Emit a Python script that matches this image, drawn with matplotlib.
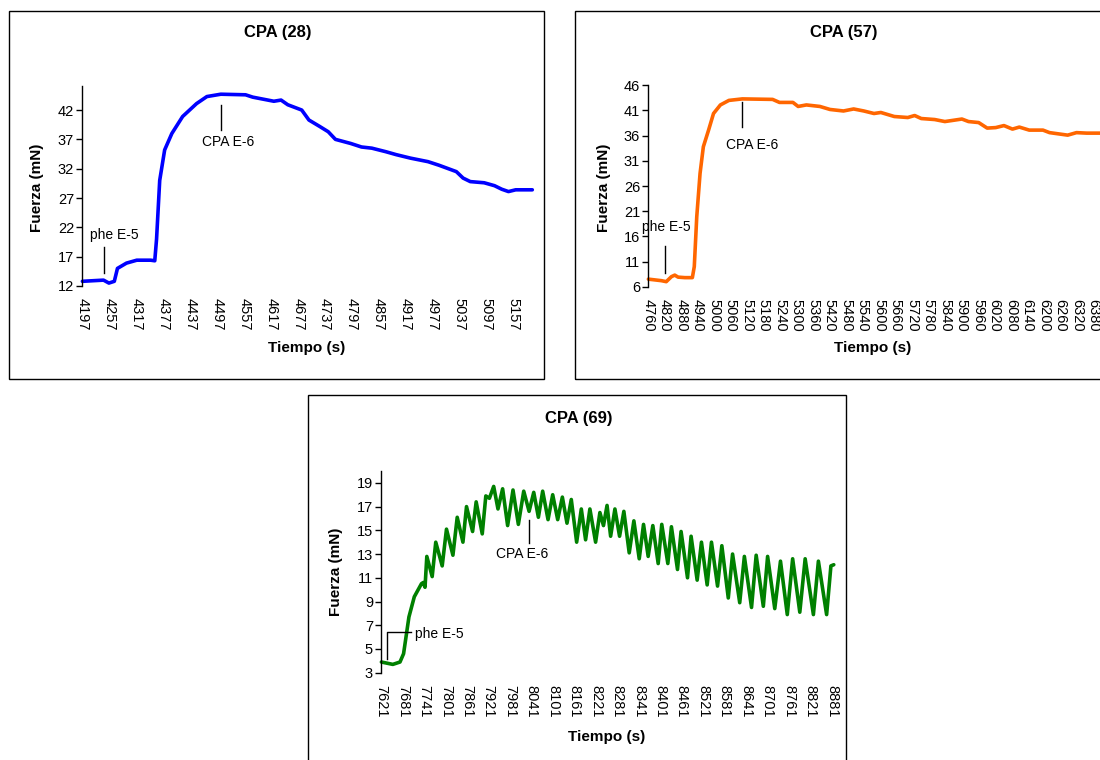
import matplotlib
matplotlib.use("Agg")
import matplotlib.pyplot as plt
from matplotlib.patches import Rectangle

plt.rcParams["font.family"] = ["Liberation Sans", "DejaVu Sans"]

# --- CPA (28): blue trace -------------------------------------------------
t28 = [4197, 4244, 4256, 4268, 4275, 4295, 4318, 4349, 4358, 4362, 4369, 4380,
       4396, 4420, 4451, 4474, 4505, 4560, 4576, 4623, 4639, 4654, 4685, 4701,
       4725, 4744, 4760, 4794, 4818, 4841, 4872, 4895, 4927, 4966, 4990, 5029,
       5044, 5060, 5091, 5114, 5130, 5145, 5161, 5198]
f28 = [12.8, 13.0, 12.5, 12.8, 15.0, 15.9, 16.4, 16.4, 16.3, 20.0, 30.0, 35.2,
       38.0, 40.9, 43.1, 44.3, 44.7, 44.6, 44.2, 43.5, 43.7, 42.9, 42.0, 40.3,
       39.2, 38.3, 37.0, 36.3, 35.7, 35.5, 34.9, 34.4, 33.8, 33.2, 32.6, 31.5,
       30.4, 29.8, 29.6, 29.1, 28.5, 28.1, 28.4, 28.4]
ticks28 = list(range(4197, 5158, 60))

# --- CPA (57): orange trace -----------------------------------------------
t57 = [4760, 4807, 4825, 4844, 4856, 4868, 4893, 4920, 4927, 4936, 4948, 4960,
       4979, 4997, 5022, 5053, 5102, 5212, 5237, 5286, 5305, 5335, 5384, 5421,
       5470, 5507, 5544, 5581, 5606, 5655, 5704, 5729, 5753, 5802, 5839, 5864,
       5901, 5925, 5962, 5993, 6024, 6054, 6085, 6110, 6146, 6196, 6220, 6286,
       6318, 6355, 6402, 6430]
f57 = [7.5, 7.2, 7.0, 8.0, 8.3, 7.9, 7.8, 7.8, 10.0, 19.9, 28.5, 33.8,
       37.1, 40.4, 42.1, 43.0, 43.3, 43.2, 42.6, 42.6, 41.8, 42.1, 41.8, 41.2,
       40.9, 41.3, 40.9, 40.4, 40.6, 39.8, 39.6, 40.0, 39.4, 39.2, 38.8, 39.0,
       39.3, 38.8, 38.6, 37.5, 37.6, 38.0, 37.3, 37.7, 37.1, 37.1, 36.6, 36.1,
       36.6, 36.5, 36.5, 36.5]
ticks57 = list(range(4760, 6381, 60))

# --- CPA (69): green oscillating trace ------------------------------------
t69 = [7621, 7653, 7673, 7683, 7698, 7713, 7733, 7738, 7743, 7748, 7763, 7773,
       7791, 7803, 7821, 7833, 7849, 7859, 7876, 7886, 7903, 7913, 7923, 7935,
       7947, 7960, 7974, 7989, 8004, 8019, 8034, 8047, 8060, 8072, 8087, 8100,
       8114, 8127, 8140, 8152, 8167, 8180, 8192, 8204, 8220, 8232, 8242, 8252,
       8262, 8274, 8287, 8299, 8314, 8327, 8342, 8354, 8367, 8380, 8395, 8405,
       8422, 8432, 8449, 8459, 8477, 8487, 8504, 8516, 8532, 8544, 8561, 8573,
       8591, 8603, 8623, 8636, 8656, 8669, 8689, 8701, 8721, 8737, 8756, 8771,
       8791, 8806, 8829, 8843, 8866, 8878, 8886]
f69 = [3.9, 3.7, 3.9, 4.6, 7.7, 9.4, 10.5, 10.6, 10.2, 12.8, 11.1, 14.0,
       12.0, 15.1, 12.9, 16.1, 14.0, 17.0, 14.9, 17.4, 14.7, 17.9, 17.7, 18.7,
       16.8, 18.5, 15.4, 18.4, 15.5, 18.3, 16.6, 18.2, 16.1, 18.3, 15.9, 18.0,
       15.9, 17.8, 15.6, 17.6, 14.0, 16.8, 14.2, 16.8, 14.0, 16.5, 15.4, 17.1,
       14.5, 16.8, 14.5, 16.6, 13.1, 15.8, 12.6, 15.5, 12.8, 15.4, 12.2, 15.5,
       12.2, 15.3, 11.7, 14.9, 11.0, 14.5, 10.8, 14.0, 10.4, 14.0, 10.3, 13.7,
       9.3, 13.0, 8.9, 12.8, 8.5, 12.9, 8.6, 12.8, 8.4, 12.4, 7.9, 12.6,
       8.1, 12.6, 7.9, 12.4, 7.9, 12.0, 12.1]
ticks69 = list(range(7621, 8882, 60))

W, H = 1100, 760
fig = plt.figure(figsize=(W / 100, H / 100), dpi=100)


def fx(x):
    return x / W


def fy(y):
    return 1 - y / H


def frame(x0, y0, x1, y1):
    fig.patches.append(Rectangle((fx(x0), fy(y1)), fx(x1 - x0), (y1 - y0) / H,
                                 transform=fig.transFigure, fill=False,
                                 edgecolor="black", linewidth=1.0))


def panel(px_left, px_right, px_top, px_bottom, t, f, color, xlim, ylim, yticks, xticks,
          title, title_xy, ylab_xy, xlab_xy):
    ax = fig.add_axes([fx(px_left), fy(px_bottom), fx(px_right - px_left),
                       (px_bottom - px_top) / H])
    ax.plot(t, f, color=color, linewidth=2.6, solid_joinstyle="round",
            solid_capstyle="round", clip_on=False)
    ax.set_xlim(*xlim)
    ax.set_ylim(*ylim)
    ax.set_yticks(yticks)
    ax.set_xticks(xticks)
    ax.set_xticklabels([str(v) for v in xticks], rotation=-90, fontsize=10.5)
    ax.tick_params(axis="y", labelsize=10.5, length=4, width=1, pad=2)
    ax.tick_params(axis="x", length=0, pad=9)
    for side in ("top", "right", "bottom"):
        ax.spines[side].set_visible(False)
    ax.spines["left"].set_linewidth(1.0)
    ax.patch.set_alpha(0)
    fig.text(fx(title_xy[0]), fy(title_xy[1]), title, ha="center", va="center",
             fontsize=12, fontweight="bold")
    fig.text(fx(ylab_xy[0]), fy(ylab_xy[1]), "Fuerza (mN)", ha="center", va="center",
             rotation=90, fontsize=11, fontweight="bold")
    fig.text(fx(xlab_xy[0]), fy(xlab_xy[1]), "Tiempo (s)", ha="center", va="center",
             fontsize=11, fontweight="bold")
    return ax


# frames
frame(9, 11, 544, 379)
frame(575, 11, 1130, 379)
frame(308, 395, 846, 790)

ax1 = panel(82.4, 533.2, 86, 286, t28, f28, "#0000FF", (4197, 5200), (12, 46.1),
            range(12, 43, 5), ticks28, "CPA (28)", (278, 33), (37, 188), (307, 348))
ax1.plot([4244, 4244], [14.2, 18.7], color="black", lw=1)
ax1.text(4267, 20.7, "phe E-5", ha="center", va="center", fontsize=10)
ax1.plot([4505, 4505], [38.6, 42.85], color="black", lw=1)
ax1.text(4522, 36.6, "CPA E-6", ha="center", va="center", fontsize=10)

ax2 = panel(648.4, 1110, 85.3, 286.7, t57, f57, "#FF6600", (4760, 6440), (6, 46),
            range(6, 47, 5), ticks57, "CPA (57)", (844, 33), (604, 188), (873, 348))
ax2.plot([4819, 4819], [8.65, 14.1], color="black", lw=1)
ax2.text(4737, 17.8, "phe E-5", ha="left", va="center", fontsize=10)
ax2.plot([5099, 5099], [37.8, 42.75], color="black", lw=1)
ax2.text(5139, 34.1, "CPA E-6", ha="center", va="center", fontsize=10)

ax3 = panel(381.4, 835.2, 471, 672.7, t69, f69, "#008000", (7621, 8890), (3, 20),
            range(3, 20, 2), ticks69, "CPA (69)", (579, 418), (336, 572), (607, 737))
ax3.plot([7638, 7638, 7705], [4.12, 6.4, 6.4], color="black", lw=1)
ax3.text(7715, 6.3, "phe E-5", ha="left", va="center", fontsize=10)
ax3.plot([8035, 8035], [13.9, 15.9], color="black", lw=1)
ax3.text(8014, 12.97, "CPA E-6", ha="center", va="center", fontsize=10)

fig.savefig("out.png", dpi=100)
